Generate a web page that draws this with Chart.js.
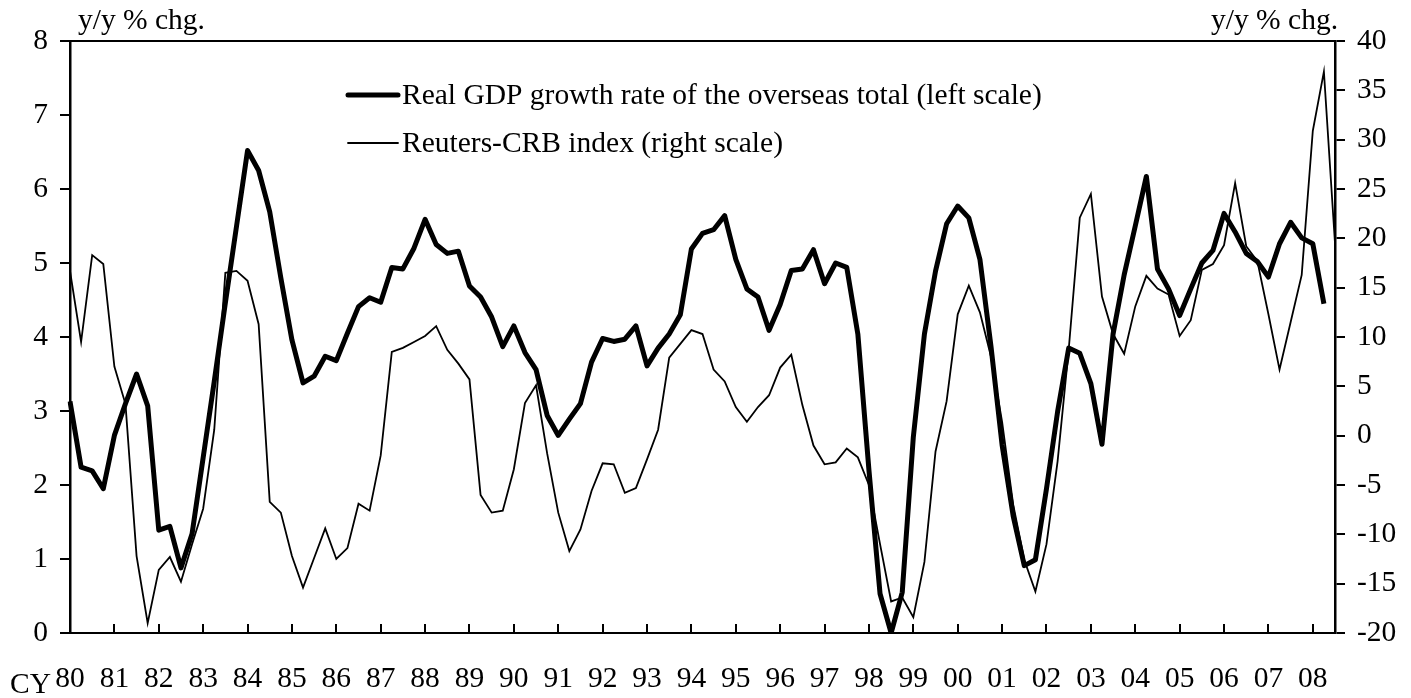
<!DOCTYPE html>
<html>
<head>
<meta charset="utf-8">
<title>Overseas real GDP and Reuters-CRB index</title>
<script src="https://cdn.jsdelivr.net/npm/chart.js@4.4.1/dist/chart.umd.min.js"></script>
<style>
  html, body { margin: 0; padding: 0; background: #fff; }
</style>
</head>
<body>
<canvas id="chart" width="1411" height="698"></canvas>
<script>
// calendar years shown under the x axis, one label per year
var years = ['80', '81', '82', '83', '84', '85', '86', '87', '88', '89',
             '90', '91', '92', '93', '94', '95', '96', '97', '98', '99',
             '00', '01', '02', '03', '04', '05', '06', '07', '08'];
var quarterNames = ['Q1', 'Q2', 'Q3', 'Q4'];

// real GDP growth of the overseas total, y/y % chg. (left scale), 80Q1 - 08Q2
var gdpGrowth = [
  3.13, 2.24, 2.19, 1.95, 2.67, 3.10, 3.50, 3.07, 1.39, 1.44, 0.88, 1.34,
  2.37, 3.40, 4.46, 5.49, 6.52, 6.25, 5.69, 4.80, 3.96, 3.38, 3.47, 3.74,
  3.68, 4.05, 4.41, 4.53, 4.47, 4.94, 4.92, 5.20, 5.59, 5.25, 5.13, 5.16,
  4.69, 4.54, 4.27, 3.87, 4.15, 3.79, 3.56, 2.94, 2.67, 2.89, 3.10, 3.66,
  3.98, 3.94, 3.97, 4.15, 3.61, 3.85, 4.04, 4.30, 5.19, 5.40, 5.45, 5.64,
  5.05, 4.65, 4.54, 4.09, 4.44, 4.90, 4.92, 5.18, 4.72, 5.00, 4.94, 4.04,
  2.20, 0.53, 0.00, 0.55, 2.65, 4.04, 4.89, 5.53, 5.77, 5.61, 5.05, 3.87,
  2.54, 1.58, 0.91, 0.99, 1.95, 2.99, 3.85, 3.78, 3.37, 2.55, 4.04, 4.84,
  5.50, 6.17, 4.92, 4.65, 4.29, 4.65, 5.00, 5.17, 5.67, 5.42, 5.13, 5.02,
  4.81, 5.26, 5.55, 5.34, 5.26, 4.45
];

// Reuters-CRB index, y/y % chg. (right scale), 80Q1 - 08Q3
var crbIndex = [
  16.7, 9.5, 18.3, 17.4, 7.0, 3.2, -12.2, -19.0, -13.6, -12.3, -14.8, -11.0,
  -7.4, 0.6, 16.5, 16.7, 15.7, 11.3, -6.7, -7.8, -12.2, -15.4, -12.4, -9.4,
  -12.5, -11.4, -6.9, -7.6, -2.0, 8.5, 8.9, 9.5, 10.1, 11.1, 8.7, 7.3,
  5.7, -6.0, -7.8, -7.6, -3.4, 3.3, 5.1, -1.8, -7.8, -11.7, -9.5, -5.6,
  -2.8, -2.9, -5.8, -5.3, -2.4, 0.6, 7.9, 9.3, 10.7, 10.3, 6.7, 5.5,
  2.9, 1.4, 2.9, 4.1, 6.9, 8.2, 3.1, -1.0, -2.9, -2.7, -1.3, -2.2,
  -5.0, -11.0, -16.8, -16.4, -18.4, -12.8, -1.6, 3.5, 12.3, 15.2, 12.5, 8.0,
  1.4, -7.0, -12.6, -15.8, -11.0, -2.6, 8.7, 22.1, 24.5, 14.1, 10.3, 8.3,
  13.1, 16.2, 14.9, 14.3, 10.1, 11.7, 16.8, 17.4, 19.3, 25.6, 19.2, 17.7,
  12.3, 6.7, 11.5, 16.3, 30.9, 36.9, 19.5
];

var gdpLabel = 'Real GDP growth rate of the overseas total (left scale)';
var crbLabel = 'Reuters-CRB index (right scale)';
var unitText = 'y/y % chg.';

// one category per quarter
var quarters = [];
years.forEach(function (y) {
  quarterNames.forEach(function (q) { quarters.push(y + q); });
});
quarters = quarters.slice(0, crbIndex.length);

var FONT = "'Liberation Serif', 'Times New Roman', serif";
var FONT_SIZE = 29.5;
Chart.defaults.font.family = FONT;
Chart.defaults.font.size = FONT_SIZE;
Chart.defaults.color = '#000';

// frame top line, unit captions, "CY" and the legend
var extras = {
  id: 'extras',
  afterDraw: function (chart) {
    var ctx = chart.ctx;
    var a = chart.chartArea;
    ctx.save();
    ctx.strokeStyle = '#000';
    ctx.lineWidth = 2;
    ctx.beginPath();
    ctx.moveTo(a.left, a.top);
    ctx.lineTo(a.right, a.top);
    ctx.stroke();

    ctx.fillStyle = '#000';
    ctx.font = FONT_SIZE + 'px ' + FONT;
    ctx.textBaseline = 'alphabetic';
    ctx.textAlign = 'left';
    ctx.fillText(unitText, 78, 29);
    ctx.textAlign = 'right';
    ctx.fillText(unitText, 1338, 29);
    ctx.textAlign = 'left';
    ctx.fillText('CY', 10, 693);

    // legend rows
    var rows = [
      { ds: chart.data.datasets[0], y: 95 },
      { ds: chart.data.datasets[1], y: 143 }
    ];
    rows.forEach(function (r) {
      ctx.lineWidth = r.ds.borderWidth;
      ctx.lineCap = 'round';
      ctx.beginPath();
      ctx.moveTo(348, r.y);
      ctx.lineTo(398, r.y);
      ctx.stroke();
      ctx.textBaseline = 'middle';
      ctx.textAlign = 'left';
      ctx.fillText(r.ds.label, 402, r.y + 1);
    });
    ctx.restore();
  }
};

var tickColor = function (c) { return c.index % 4 === 0 ? '#000' : 'rgba(0,0,0,0)'; };

var ctx = document.getElementById('chart').getContext('2d');
var chart = new Chart(ctx, {
  type: 'line',
  data: {
    labels: quarters,
    datasets: [{
      label: gdpLabel,
      data: gdpGrowth,
      yAxisID: 'yL',
      borderColor: '#000',
      borderWidth: 5,
      pointRadius: 0,
      tension: 0,
      borderJoinStyle: 'round'
    }, {
      label: crbLabel,
      data: crbIndex,
      yAxisID: 'yR',
      borderColor: '#000',
      borderWidth: 1.8,
      pointRadius: 0,
      tension: 0
    }]
  },
  options: {
    responsive: false,
    animation: false,
    layout: { padding: { top: 41, left: 0, right: 0, bottom: 0 } },
    plugins: {
      legend: { display: false },
      tooltip: { enabled: false }
    },
    scales: {
      x: {
        type: 'category',
        offset: false,
        border: { color: '#000', width: 2 },
        grid: { drawOnChartArea: false, tickLength: -9, lineWidth: 2, color: tickColor },
        ticks: {
          autoSkip: false,
          maxRotation: 0,
          padding: 38,
          callback: function (v, i) { return i % 4 === 0 ? years[i / 4] : ''; }
        },
        afterFit: function (s) { s.height = 65; }
      },
      yL: {
        position: 'left',
        min: 0,
        max: 8,
        border: { color: '#000', width: 2.5 },
        grid: { drawOnChartArea: false, tickLength: 10, lineWidth: 2, color: '#000' },
        ticks: { stepSize: 1, padding: 12 },
        afterFit: function (s) { s.width = 70; }
      },
      yR: {
        position: 'right',
        min: -20,
        max: 40,
        border: { color: '#000', width: 2.5 },
        grid: { drawOnChartArea: false, tickLength: 10, lineWidth: 2, color: '#000' },
        ticks: { stepSize: 5, padding: 12 },
        afterFit: function (s) { s.width = 76; }
      }
    }
  },
  plugins: [extras]
});
</script>
</body>
</html>
